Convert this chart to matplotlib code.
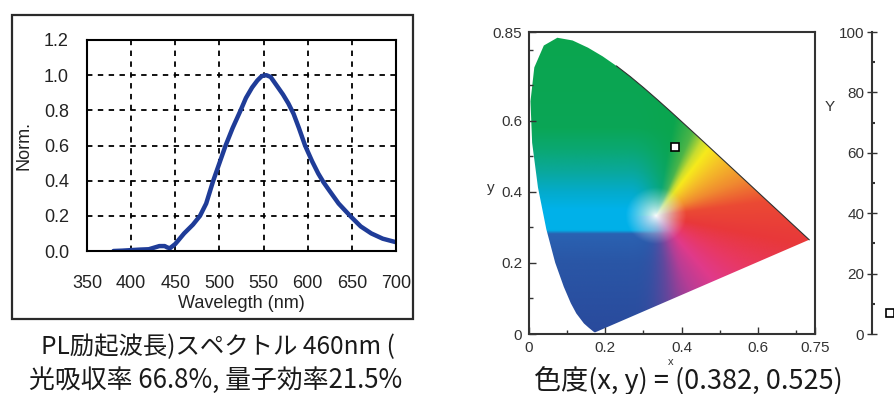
import numpy as np
import matplotlib
matplotlib.use("Agg")
import matplotlib.pyplot as plt
from matplotlib.patches import Polygon, Rectangle
from matplotlib.colors import to_rgb

plt.rcParams['font.family'] = ['Liberation Sans', 'DejaVu Sans']

# --- PL emission spectrum ---
wavelength = [380, 390, 400, 410, 420, 428, 432, 438, 441, 444, 450, 460, 470, 478,
              485, 493, 500, 507, 515, 524, 530, 537, 543, 548, 553, 558, 565, 572,
              578, 584, 590, 597, 605, 612, 618, 625, 635, 648, 660, 672, 685, 700]
norm = [0.0, 0.002, 0.005, 0.008, 0.01, 0.022, 0.028, 0.028, 0.02, 0.016, 0.04, 0.10,
        0.15, 0.20, 0.27, 0.40, 0.50, 0.60, 0.70, 0.80, 0.87, 0.93, 0.97, 0.995, 1.0,
        0.99, 0.94, 0.89, 0.84, 0.78, 0.70, 0.60, 0.51, 0.44, 0.39, 0.34, 0.27, 0.20,
        0.14, 0.10, 0.07, 0.05]
wl_ticks = [350, 400, 450, 500, 550, 600, 650, 700]
norm_ticks = [0.0, 0.2, 0.4, 0.6, 0.8, 1.0, 1.2]

# --- CIE 1931 spectral locus (x, y) ---
locus_x = [0.1741, 0.1733, 0.1714, 0.1689, 0.1644, 0.1566, 0.1440, 0.1241, 0.1096,
           0.0913, 0.0687, 0.0454, 0.0235, 0.0082, 0.0039, 0.0139, 0.0389, 0.0743,
           0.1142, 0.1547, 0.1929, 0.2296, 0.2658, 0.3016, 0.3373, 0.3731, 0.4441,
           0.5125, 0.5752, 0.6270, 0.6658, 0.6915, 0.7190, 0.7300, 0.7347]
locus_y = [0.0050, 0.0048, 0.0051, 0.0069, 0.0109, 0.0177, 0.0297, 0.0578, 0.0868,
           0.1327, 0.2007, 0.2950, 0.4127, 0.5384, 0.6548, 0.7502, 0.8120, 0.8338,
           0.8262, 0.8059, 0.7816, 0.7543, 0.7243, 0.6923, 0.6589, 0.6245, 0.5547,
           0.4866, 0.4242, 0.3725, 0.3340, 0.3083, 0.2809, 0.2700, 0.2653]

# colour fill: warm side by direction from the white point, cool side in bands of y
hue_angle = [-180, -112, -96, -82, -66, -50, -32, -12, 8, 24, 42, 54, 60, 68, 80, 180]
hue_color = ['#2c50a2', '#2c50a2', '#4a4aa0', '#76439a', '#b83d95', '#e03a8a',
             '#e83864', '#e8383a', '#eb4a34', '#f08a30', '#f5c128', '#f7ea1c',
             '#c8dc30', '#4cb548', '#0ba54e', '#0ba54e']
band_y = [0.0, 0.20, 0.282, 0.292, 0.35, 0.40, 0.46, 0.52, 0.58, 0.85]
band_color = ['#2a4a9c', '#2a56a6', '#2a62b2', '#00b0e8', '#00b2ea', '#04abcc',
              '#0aa89a', '#0ba872', '#0ba656', '#0ba54e']
white_point = (0.333, 0.333)

sample_xy = (0.382, 0.525)
sample_Y = 7.0

W, H = 895, 394
fig = plt.figure(figsize=(W / 100, H / 100), dpi=100)
fig.patch.set_facecolor('white')


def fx(px):
    return px / W


def fy(py):
    return 1 - py / H


# ---------------- left panel ----------------
fig.add_artist(Rectangle((fx(12), fy(319)), fx(413) - fx(12), fy(15) - fy(319),
                         transform=fig.transFigure, fill=False,
                         edgecolor='#2a2a2a', lw=1.6))

ax1 = fig.add_axes([fx(87), fy(251), fx(396) - fx(87), fy(40) - fy(251)])
ax1.plot(wavelength, norm, color='#1f3c98', lw=3.2, solid_capstyle='round')
ax1.set_xlim(350, 700)
ax1.set_ylim(0, 1.2)
ax1.set_xticks(wl_ticks)
ax1.set_yticks(norm_ticks)
ax1.set_yticklabels([f'{v:.1f}' for v in norm_ticks])
ax1.tick_params(length=0, labelsize=13, colors='#222222', pad=13)
ax1.tick_params(axis='x', pad=17)
for v in wl_ticks[1:-1]:
    ax1.axvline(v, color='black', lw=1.3, ls=(0, (3, 3)), zorder=0)
for v in norm_ticks[1:-1]:
    ax1.axhline(v, color='black', lw=1.3, ls=(0, (3, 3)), zorder=0)
for s in ax1.spines.values():
    s.set_color('black')
    s.set_linewidth(1.5)
ax1.set_ylabel('Norm.', fontsize=13, color='#222222')
ax1.yaxis.set_label_coords(fx(33 - 87) / (fx(396) - fx(87)), 0.5)
ax1.set_xlabel('Wavelegth (nm)', fontsize=13, color='#222222', labelpad=0)
ax1.xaxis.set_label_coords(0.5, (fy(295) - fy(251)) / (fy(40) - fy(251)))

cjk = ['Noto Sans CJK JP', 'DejaVu Sans']
fig.text(fx(218), fy(347), 'PL励起波長)スペクトル 460nm (', ha='center', va='center',
         fontsize=17.6, family=cjk, color='#1a1a1a')
fig.text(fx(216), fy(380), '光吸収率 66.8%, 量子効率21.5%', ha='center', va='center',
         fontsize=18.6, family=cjk, color='#1a1a1a')

# ---------------- chromaticity diagram ----------------
ax2 = fig.add_axes([fx(529), fy(334), fx(815) - fx(529), fy(32) - fy(334)])
ax2.set_xlim(0, 0.75)
ax2.set_ylim(0, 0.85)

gx = np.linspace(0, 0.75, 700)
gy = np.linspace(0, 0.85, 700)
XX, YY = np.meshgrid(gx, gy)
dx = XX - white_point[0]
dy = YY - white_point[1]
ang = np.degrees(np.arctan2(dy, dx))
rad = np.hypot(dx, dy)
hc = np.array([to_rgb(c) for c in hue_color])
bc = np.array([to_rgb(c) for c in band_color])
warm = np.stack([np.interp(ang, hue_angle, hc[:, k]) for k in range(3)], axis=-1)
cool = np.stack([np.interp(YY, band_y, bc[:, k]) for k in range(3)], axis=-1)
w = np.clip((dx + 0.07) / 0.14, 0, 1)
w = (w * w * (3 - 2 * w))[..., None]
rgb = (1 - w) * cool + w * warm
sat = np.clip(rad / 0.08, 0, 1) ** 0.75
img = 1 - sat[..., None] * (1 - rgb)
im = ax2.imshow(img, extent=(0, 0.75, 0, 0.85), origin='lower', aspect='auto',
                interpolation='bilinear', zorder=1)
horseshoe = Polygon(np.column_stack([locus_x, locus_y]), closed=True,
                    transform=ax2.transData, facecolor='none', edgecolor='none')
ax2.add_patch(horseshoe)
im.set_clip_path(horseshoe)
ax2.plot(locus_x[-14:], locus_y[-14:], color='#303030', lw=0.8, zorder=2)

ax2.plot(*sample_xy, marker='s', ms=6, mfc='white', mec='black', mew=1.2,
         ls='none', zorder=3)

ax2.set_xticks([0, 0.2, 0.4, 0.6, 0.75])
ax2.set_xticklabels(['0', '0.2', '0.4', '0.6', '0.75'])
ax2.set_yticks([0, 0.2, 0.4, 0.6, 0.85])
ax2.set_yticklabels(['0', '0.2', '0.4', '0.6', '0.85'])
ax2.set_xticks([0.1, 0.3, 0.5, 0.7], minor=True)
ax2.set_yticks([0.1, 0.3, 0.5, 0.7, 0.8], minor=True)
ax2.tick_params(which='major', direction='in', length=5, width=1, labelsize=11,
                colors='#333333', pad=5)
ax2.tick_params(which='minor', direction='in', length=3, width=1, colors='#333333')
for s in ax2.spines.values():
    s.set_color('#333333')
    s.set_linewidth(1.5)
ax2.set_ylabel('y', rotation=0, fontsize=11, color='#333333')
ax2.yaxis.set_label_coords(-0.133, 0.46)
ax2.set_xlabel('x', fontsize=8, color='#333333')
ax2.xaxis.set_label_coords(0.497, -0.075)

fig.text(fx(688), fy(381), '色度(x, y) = (0.382, 0.525)', ha='center', va='center',
         fontsize=19.5, family=cjk, color='#1a1a1a')

# ---------------- luminance Y scale ----------------
ax3 = fig.add_axes([fx(872), fy(334), fx(890) - fx(872), fy(32) - fy(334)])
ax3.set_xlim(0, 1)
ax3.set_ylim(0, 100)
ax3.patch.set_alpha(0)
for k in ('top', 'right', 'bottom'):
    ax3.spines[k].set_visible(False)
ax3.spines['left'].set_color('#333333')
ax3.spines['left'].set_linewidth(1.5)
ax3.set_xticks([])
ax3.set_yticks([0, 20, 40, 60, 80, 100])
ax3.set_yticks([10, 30, 50, 70, 90], minor=True)
ax3.tick_params(which='major', direction='inout', length=7, width=1, labelsize=11,
                colors='#333333', pad=2)
ax3.tick_params(which='minor', direction='in', length=2, width=1.5, colors='#333333')
ax3.plot(1.0, sample_Y, marker='s', ms=6, mfc='white', mec='black', mew=1.2,
         clip_on=False)
fig.text(fx(830), fy(107), 'Y', ha='center', va='center', fontsize=11, color='#333333')

fig.savefig('out.png', dpi=100, facecolor='white')
